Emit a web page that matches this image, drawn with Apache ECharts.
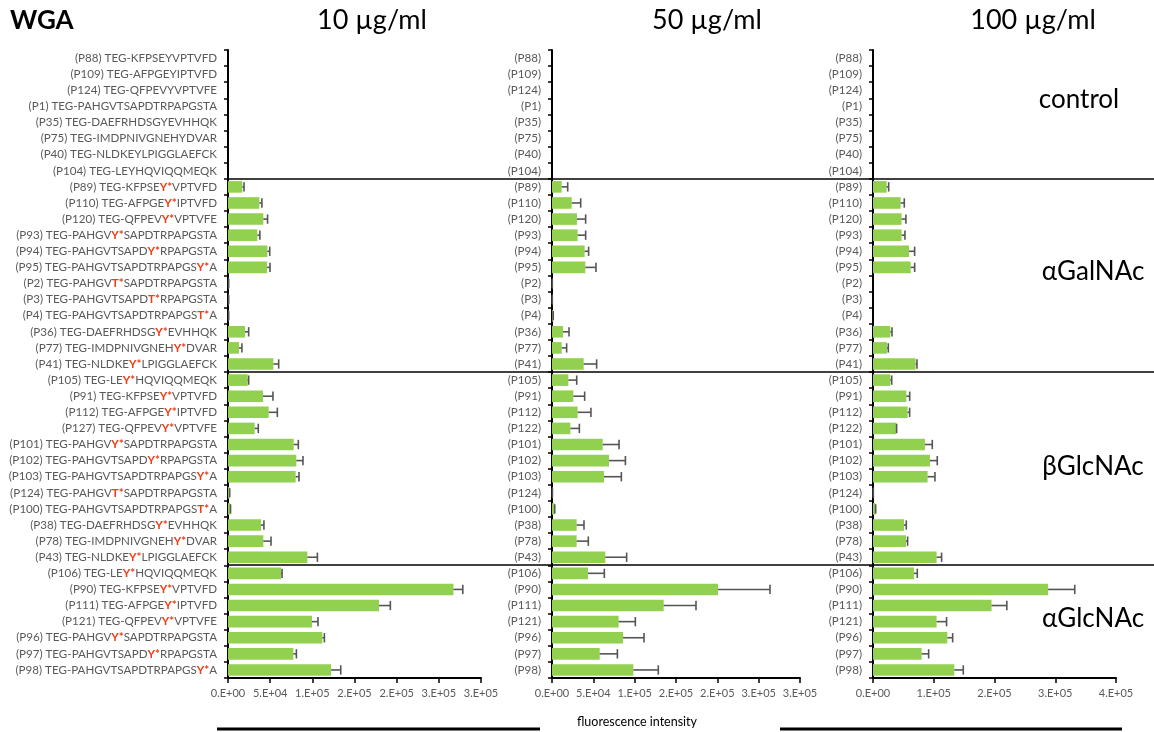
<!DOCTYPE html>
<html>
<head>
<meta charset="utf-8">
<script src="https://cdn.jsdelivr.net/npm/echarts@6/dist/echarts.min.js"></script>
<style>
  html, body { margin: 0; padding: 0; background: #fff; }
  #chart { width: 1154px; height: 732px; }
</style>
</head>
<body>
<div id="chart"></div>
<script>
// WGA binding to TEG peptides, three lectin concentrations.
// Modified residue inside square brackets is drawn in red.
const peptideLabels = [
  '(P88) TEG-KFPSEYVPTVFD', '(P109) TEG-AFPGEYIPTVFD', '(P124) TEG-QFPEVYVPTVFE',
  '(P1) TEG-PAHGVTSAPDTRPAPGSTA', '(P35) TEG-DAEFRHDSGYEVHHQK', '(P75) TEG-IMDPNIVGNEHYDVAR',
  '(P40) TEG-NLDKEYLPIGGLAEFCK', '(P104) TEG-LEYHQVIQQMEQK',
  '(P89) TEG-KFPSE[Y*]VPTVFD', '(P110) TEG-AFPGE[Y*]IPTVFD', '(P120) TEG-QFPEV[Y*]VPTVFE',
  '(P93) TEG-PAHGV[Y*]SAPDTRPAPGSTA', '(P94) TEG-PAHGVTSAPD[Y*]RPAPGSTA', '(P95) TEG-PAHGVTSAPDTRPAPGS[Y*]A',
  '(P2) TEG-PAHGV[T*]SAPDTRPAPGSTA', '(P3) TEG-PAHGVTSAPD[T*]RPAPGSTA', '(P4) TEG-PAHGVTSAPDTRPAPGS[T*]A',
  '(P36) TEG-DAEFRHDSG[Y*]EVHHQK', '(P77) TEG-IMDPNIVGNEH[Y*]DVAR', '(P41) TEG-NLDKE[Y*]LPIGGLAEFCK',
  '(P105) TEG-LE[Y*]HQVIQQMEQK', '(P91) TEG-KFPSE[Y*]VPTVFD', '(P112) TEG-AFPGE[Y*]IPTVFD',
  '(P127) TEG-QFPEV[Y*]VPTVFE', '(P101) TEG-PAHGV[Y*]SAPDTRPAPGSTA', '(P102) TEG-PAHGVTSAPD[Y*]RPAPGSTA',
  '(P103) TEG-PAHGVTSAPDTRPAPGS[Y*]A', '(P124) TEG-PAHGV[T*]SAPDTRPAPGSTA', '(P100) TEG-PAHGVTSAPDTRPAPGS[T*]A',
  '(P38) TEG-DAEFRHDSG[Y*]EVHHQK', '(P78) TEG-IMDPNIVGNEH[Y*]DVAR', '(P43) TEG-NLDKE[Y*]LPIGGLAEFCK',
  '(P106) TEG-LE[Y*]HQVIQQMEQK', '(P90) TEG-KFPSE[Y*]VPTVFD', '(P111) TEG-AFPGE[Y*]IPTVFD',
  '(P121) TEG-QFPEV[Y*]VPTVFE', '(P96) TEG-PAHGV[Y*]SAPDTRPAPGSTA', '(P97) TEG-PAHGVTSAPD[Y*]RPAPGSTA',
  '(P98) TEG-PAHGVTSAPDTRPAPGS[Y*]A'
];
const peptideIds = [
  '(P88)', '(P109)', '(P124)', '(P1)', '(P35)', '(P75)', '(P40)', '(P104)',
  '(P89)', '(P110)', '(P120)', '(P93)', '(P94)', '(P95)', '(P2)', '(P3)', '(P4)', '(P36)', '(P77)', '(P41)',
  '(P105)', '(P91)', '(P112)', '(P122)', '(P101)', '(P102)', '(P103)', '(P124)', '(P100)', '(P38)', '(P78)', '(P43)',
  '(P106)', '(P90)', '(P111)', '(P121)', '(P96)', '(P97)', '(P98)'
];
const groupNames = ['control', 'αGalNAc', 'βGlcNAc', 'αGlcNAc'];
const groupSizes = [8, 12, 12, 7];
const concentrations = ['10 µg/ml', '50 µg/ml', '100 µg/ml'];

// mean fluorescence intensity and error per peptide
const mean10 = [
  0, 0, 0, 0, 0, 0, 0, 0,
  17000, 37200, 41900, 34800, 46700, 46300, 500, 500, 500, 20200, 13000, 53800,
  23300, 41500, 48200, 31600, 77900, 81000, 80200, 1500, 2500, 39100, 41900, 94100,
  62900, 267300, 179100, 99600, 111900, 77500, 122200
];
const err10 = [
  0, 0, 0, 0, 0, 0, 0, 0,
  2000, 3000, 5000, 3000, 2800, 3500, 300, 300, 300, 4300, 3500, 6300,
  1200, 11800, 10300, 4300, 5500, 7900, 4000, 500, 500, 3500, 9100, 11900,
  1200, 11100, 13400, 7100, 2400, 3600, 11500
];
const mean50 = [
  0, 0, 0, 0, 0, 0, 0, 0,
  11700, 23800, 30200, 31000, 39500, 40300, 300, 300, 1000, 13300, 11700, 38300,
  19800, 25800, 31000, 22200, 61300, 69000, 62900, 500, 2800, 29800, 29800, 64500,
  43500, 200800, 135100, 80600, 85900, 57700, 98400
];
const err50 = [
  0, 0, 0, 0, 0, 0, 0, 0,
  7300, 10900, 10500, 9700, 4800, 12900, 0, 0, 500, 7300, 6000, 15700,
  10100, 13700, 16100, 10900, 19800, 19800, 21000, 0, 500, 8900, 14100, 25800,
  19800, 62900, 39100, 20200, 25400, 21400, 30200
];
const mean100 = [
  0, 0, 0, 0, 0, 0, 0, 0,
  22500, 45500, 47100, 47100, 59200, 62000, 0, 0, 0, 28600, 23000, 70200,
  28600, 54900, 57000, 38400, 85500, 93700, 89900, 500, 3900, 51000, 54300, 104700,
  67400, 288300, 195100, 104700, 122300, 80100, 133800
];
const err100 = [
  0, 0, 0, 0, 0, 0, 0, 0,
  3300, 6000, 7100, 5500, 9300, 6600, 0, 0, 0, 2700, 2200, 2200,
  2200, 5500, 3300, 500, 12100, 12100, 12100, 0, 500, 3800, 2700, 8200,
  5500, 43800, 25200, 16400, 8800, 11500, 14800
];

// x-axis tick labels (Excel style, one significant digit)
const ticks10 = ['0.E+00', '5.E+04', '1.E+05', '2.E+05', '2.E+05', '3.E+05', '3.E+05'];
const ticks50 = ['0.E+00', '5.E+04', '1.E+05', '2.E+05', '2.E+05', '3.E+05', '3.E+05'];
const ticks100 = ['0.E+00', '1.E+05', '2.E+05', '3.E+05', '4.E+05'];

const FONT = 'Lato, "Open Sans", sans-serif';
const GREY = '#595959';
const GREEN = '#92D050';
const RED = '#EE3D18';
const LABEL_SIZE = 11.6;

const panels = [
  { left: 228, width: 253, max: 300000, interval: 50000, ticks: ticks10, mean: mean10, err: err10, labels: peptideLabels, rich: true },
  { left: 552, width: 248, max: 300000, interval: 50000, ticks: ticks50, mean: mean50, err: err50, labels: peptideIds, rich: false },
  { left: 873, width: 243, max: 400000, interval: 100000, ticks: ticks100, mean: mean100, err: err100, labels: peptideIds, rich: false }
];

function richLabel(text) {
  const m = text.match(/^(.*)\[(.+)\](.*)$/);
  if (!m) return '{g|' + text + '}';
  return '{g|' + m[1] + '}{r|' + m[2] + '}{g|' + m[3] + '}';
}

function errorBarItem(params, api) {
  const v = api.value(0), idx = api.value(1), e = api.value(2);
  if (!v && !e) return null;
  const p0 = api.coord([v, idx]);
  const p1 = api.coord([v + e, idx]);
  const h = api.size([0, 1])[1] * 0.58;
  const st = { stroke: '#555', lineWidth: 1.6 };
  return {
    type: 'group',
    children: [
      { type: 'line', shape: { x1: p0[0], y1: p0[1], x2: p1[0], y2: p1[1] }, style: st },
      { type: 'line', shape: { x1: p1[0], y1: p1[1] - h / 2, x2: p1[0], y2: p1[1] + h / 2 }, style: st }
    ]
  };
}

const grids = [], xAxes = [], yAxes = [], series = [];
panels.forEach((p, i) => {
  grids.push({ left: p.left, width: p.width, top: 50, height: 628 });
  xAxes.push({
    type: 'value', gridIndex: i, min: 0, max: p.max, interval: p.interval,
    splitLine: { show: false },
    axisLine: { show: true, lineStyle: { color: '#000', width: 2 } },
    axisTick: { show: true, length: 5, lineStyle: { color: '#000', width: 1.5 } },
    axisLabel: {
      color: GREY, fontFamily: FONT, fontSize: 11, margin: 10,
      formatter: (val) => p.ticks[Math.round(val / p.interval)]
    }
  });
  yAxes.push({
    type: 'category', gridIndex: i, inverse: true,
    data: p.labels.map((_, k) => String(k)),
    axisLine: { show: true, lineStyle: { color: '#000', width: 2 } },
    axisTick: { show: true, length: 4, lineStyle: { color: '#000', width: 1.5 } },
    axisLabel: {
      interval: 0, margin: 11, color: GREY, fontFamily: FONT, fontSize: LABEL_SIZE,
      formatter: (val, k) => p.rich ? richLabel(p.labels[k]) : p.labels[k],
      rich: {
        g: { color: GREY, fontFamily: FONT, fontSize: LABEL_SIZE },
        r: { color: RED, fontFamily: FONT, fontSize: LABEL_SIZE, fontWeight: 'bold' }
      }
    }
  });
  series.push({
    type: 'bar', xAxisIndex: i, yAxisIndex: i,
    data: p.mean, barCategoryGap: '28%',
    itemStyle: { color: GREEN }, silent: true
  });
  series.push({
    type: 'custom', xAxisIndex: i, yAxisIndex: i,
    renderItem: errorBarItem,
    encode: { x: 0, y: 1 },
    data: p.mean.map((v, k) => [v, k, p.err[k]]),
    z: 5, silent: true
  });
});

const chart = echarts.init(document.getElementById('chart'), null, { renderer: 'canvas' });
chart.setOption({
  animation: false,
  grid: grids, xAxis: xAxes, yAxis: yAxes, series: series
});

// Decorations that depend on the laid-out axes
function rowCenter(k) { return chart.convertToPixel({ yAxisIndex: 0 }, String(k)); }
const graphics = [];

// horizontal rules between the glycan groups, across all panels
let acc = 0;
groupSizes.slice(0, -1).forEach((n) => {
  acc += n;
  const y = Math.round((rowCenter(acc - 1) + rowCenter(acc)) / 2);
  graphics.push({
    type: 'line', shape: { x1: panels[0].left, y1: y, x2: 1154, y2: y },
    style: { stroke: '#000', lineWidth: 1.5 }
  });
});

// titles
graphics.push({
  type: 'text', x: 10, y: 21,
  style: { text: 'WGA', font: 'bold 26px ' + FONT, fill: '#000', verticalAlign: 'middle' }
});
const titleCenters = [372, 707, 1033];
concentrations.forEach((c, i) => {
  graphics.push({
    type: 'text', x: titleCenters[i], y: 20,
    style: { text: c, font: '27px ' + FONT, fill: '#000', align: 'center', verticalAlign: 'middle' }
  });
});

// group names on the right
const groupPos = [[1079, 100], [1093, 272], [1093, 467], [1093, 619]];
groupNames.forEach((g, i) => {
  graphics.push({
    type: 'text', x: groupPos[i][0], y: groupPos[i][1],
    style: { text: g, font: '26px ' + FONT, fill: '#000', align: 'center', verticalAlign: 'middle' }
  });
});

// shared axis title and the rules beside it
graphics.push({
  type: 'text', x: 637, y: 722,
  style: { text: 'fluorescence intensity', font: '12.5px ' + FONT, fill: '#000', align: 'center', verticalAlign: 'middle' }
});
graphics.push({ type: 'line', shape: { x1: 217, y1: 729, x2: 540, y2: 729 }, style: { stroke: '#000', lineWidth: 3 } });
graphics.push({ type: 'line', shape: { x1: 780, y1: 729, x2: 1122, y2: 729 }, style: { stroke: '#000', lineWidth: 3 } });

chart.setOption({ graphic: graphics });
</script>
</body>
</html>
